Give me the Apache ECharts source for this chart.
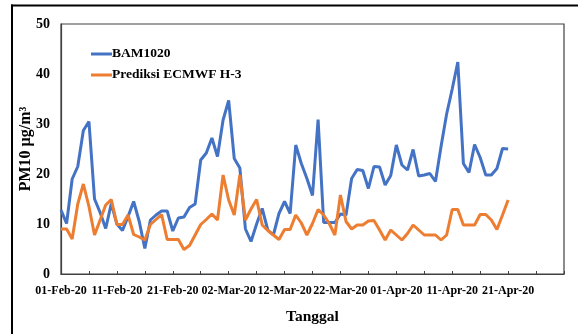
<!DOCTYPE html>
<html>
<head>
<meta charset="utf-8">
<script src="https://cdn.jsdelivr.net/npm/echarts@6/dist/echarts.min.js"></script>
<style>
  html, body { margin: 0; padding: 0; background: #fff; overflow: hidden; }
  #chart { width: 578px; height: 334px; }
</style>
</head>
<body>
<div id="chart"></div>
<script>
// Daily dates 01-Feb-20 .. 01-May-20 (category axis, one per day)
const MONTHS = ['Jan','Feb','Mar','Apr','May','Jun','Jul','Aug','Sep','Oct','Nov','Dec'];
function buildDates(startY, startM, startD, count) {
  const out = [];
  const d = new Date(Date.UTC(startY, startM, startD));
  for (let i = 0; i < count; i++) {
    const dd = String(d.getUTCDate()).padStart(2, '0');
    out.push(dd + '-' + MONTHS[d.getUTCMonth()] + '-' + String(d.getUTCFullYear()).slice(2));
    d.setUTCDate(d.getUTCDate() + 1);
  }
  return out;
}
const dates = buildDates(2020, 1, 1, 91);

// PM10 observed by BAM1020 (µg/m³), 01-Feb-20 .. 21-Apr-20
const bam1020 = [
  12.8, 10.1, 19.0, 21.5, 28.7, 30.5, 15.0, 12.3, 9.1, 14.1,
  10.0, 8.7, 11.5, 14.5, 10.5, 5.1, 10.8, 11.8, 12.6, 12.6,
  8.6, 11.2, 11.4, 13.3, 14.0, 22.8, 24.2, 27.2, 23.5, 30.8,
  34.7, 23.1, 21.2, 9.0, 6.5, 10.0, 13.1, 8.8, 7.8, 12.1,
  14.5, 12.1, 25.8, 22.1, 19.1, 15.7, 30.9, 10.3, 10.3, 10.3,
  12.0, 11.8, 19.1, 20.9, 20.7, 17.1, 21.5, 21.4, 17.8, 19.7,
  25.8, 21.8, 20.8, 24.9, 19.6, 19.8, 20.1, 18.5, 25.5, 32.0,
  37.0, 42.4, 22.1, 20.3, 25.9, 23.3, 19.8, 19.8, 21.1, 25.1,
  25.0
];

// PM10 forecast, ECMWF H-3 (µg/m³), same days
const ecmwfH3 = [
  9.0, 9.0, 7.0, 14.0, 18.0, 13.5, 7.8, 10.8, 13.8, 14.9,
  9.9, 9.9, 11.8, 7.9, 7.4, 6.8, 9.9, 10.9, 11.9, 6.9,
  6.9, 6.9, 4.9, 5.7, 7.8, 9.9, 10.9, 12.0, 10.8, 19.8,
  14.8, 11.8, 19.8, 10.8, 13.0, 14.9, 9.8, 8.7, 7.8, 6.9,
  8.9, 8.9, 11.8, 10.2, 7.8, 10.1, 12.9, 11.8, 10.1, 7.8,
  15.8, 10.5, 9.0, 9.8, 9.8, 10.6, 10.7, 8.8, 6.8, 8.8,
  7.8, 6.8, 8.1, 9.8, 8.8, 7.8, 7.8, 7.8, 6.8, 7.8,
  12.9, 12.9, 9.8, 9.8, 9.8, 11.9, 11.9, 10.8, 8.9, 11.8,
  14.8
];

const yTicks = { min: 0, max: 50, step: 10 };

const serif = 'Liberation Serif, Times New Roman, serif';
const chart = echarts.init(document.getElementById('chart'), null, { renderer: 'canvas' });

chart.setOption({
  animation: false,
  backgroundColor: '#ffffff',
  // frame around the figure: top and left edges only (it runs off the page)
  graphic: [
    {
      type: 'line', silent: true,
      shape: { x1: 11, y1: 5.5, x2: 578, y2: 5.5 },
      style: { stroke: '#000', lineWidth: 2 }
    },
    {
      type: 'line', silent: true,
      shape: { x1: 12, y1: 4.5, x2: 12, y2: 334 },
      style: { stroke: '#000', lineWidth: 2 }
    }
  ],
  grid: {
    left: 61, right: 14, top: 24, bottom: 60,
    show: true, borderColor: '#404040', borderWidth: 1.2, backgroundColor: 'transparent'
  },
  legend: {
    orient: 'vertical',
    left: 86, top: 42,
    itemGap: 7,
    icon: 'rect',
    itemWidth: 21, itemHeight: 3,
    textStyle: { fontFamily: serif, fontWeight: 'bold', fontSize: 13.5, color: '#000', padding: [0, 0, 0, -5] },
    data: ['BAM1020', 'Prediksi ECMWF H-3']
  },
  xAxis: {
    type: 'category',
    data: dates,
    boundaryGap: false,
    name: 'Tanggal',
    nameLocation: 'middle',
    nameGap: 35,
    nameMoveOverlap: false,
    nameTextStyle: { fontFamily: serif, fontWeight: 'bold', fontSize: 15.5, color: '#000' },
    axisLine: { show: true, lineStyle: { color: '#404040', width: 1.2 } },
    axisTick: {
      show: true, inside: true, length: 3,
      interval: function (i) { return i % 5 === 0; },
      lineStyle: { color: '#404040' }
    },
    axisLabel: {
      interval: function (i) { return i % 10 === 0 && i <= 80; },
      margin: 11,
      hideOverlap: false,
      fontFamily: serif, fontWeight: 'bold', fontSize: 12, color: '#000'
    },
    splitLine: { show: false }
  },
  yAxis: {
    type: 'value',
    min: yTicks.min, max: yTicks.max, interval: yTicks.step,
    name: 'PM10 µg/m³',
    nameLocation: 'middle',
    nameGap: 27,
    nameMoveOverlap: false,
    nameTextStyle: { fontFamily: serif, fontWeight: 'bold', fontSize: 16, color: '#000' },
    axisLine: { show: true, lineStyle: { color: '#404040', width: 1.2 } },
    axisTick: { show: false },
    axisLabel: { margin: 11, fontFamily: serif, fontWeight: 'bold', fontSize: 14, color: '#000' },
    splitLine: { show: false }
  },
  series: [
    {
      name: 'BAM1020', type: 'line', data: bam1020,
      showSymbol: false, symbol: 'none',
      lineStyle: { color: '#4472C4', width: 3 },
      itemStyle: { color: '#4472C4' }
    },
    {
      name: 'Prediksi ECMWF H-3', type: 'line', data: ecmwfH3,
      showSymbol: false, symbol: 'none',
      lineStyle: { color: '#ED7D31', width: 3 },
      itemStyle: { color: '#ED7D31' }
    }
  ]
});
</script>
</body>
</html>
